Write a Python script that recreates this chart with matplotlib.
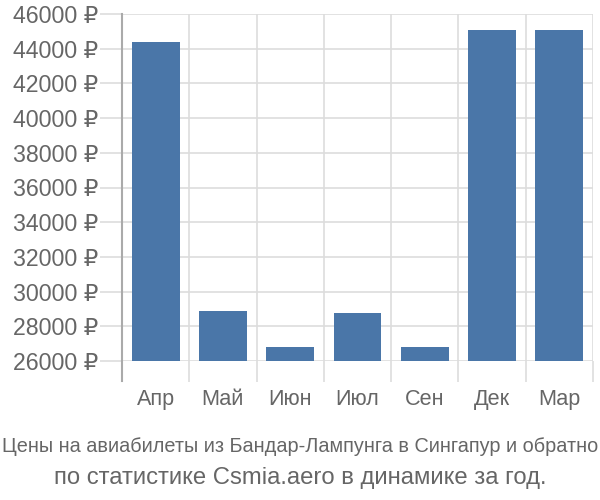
import matplotlib
matplotlib.use("Agg")
import matplotlib.pyplot as plt
import numpy as np
from matplotlib.lines import Line2D
from matplotlib import font_manager

months = ["Апр", "Май", "Июн", "Июл", "Сен", "Дек", "Мар"]
prices = [44400, 28880, 26830, 28790, 26830, 45060, 45060]
yticks = list(range(26000, 46001, 2000))
title1 = "Цены на авиабилеты из Бандар-Лампунга в Сингапур и обратно"
title2 = "по статистике Csmia.aero в динамике за год."

plt.rcParams['font.family'] = ['Liberation Sans', 'DejaVu Sans']
txt = '#666666'
grid = '#dddddd'

names = {f.name for f in font_manager.fontManager.ttflist}
narrow = 'Liberation Sans Narrow' in names

fig = plt.figure(figsize=(6, 5), dpi=100)
ax = fig.add_axes([122/600, 1-361/500, (593-122)/600, (361-14)/500])
x = np.arange(len(months))
base = 26000
ax.bar(x, [p - base for p in prices], bottom=base, width=0.71, color='#4a76a8', zorder=3)
ax.set_xlim(-0.5, len(months) - 0.5)
ax.set_ylim(26000, 46000)
ax.set_yticks(yticks)
ax.set_yticklabels([f"{v} ₽" for v in yticks], color=txt, fontsize=16.7)
ax.set_xticks(x)
ax.set_xticklabels(months, color=txt, fontsize=15.6)
ax.set_xticks(np.arange(-0.5, len(months)), minor=True)
ax.tick_params(axis='x', which='major', length=0, pad=20)
ax.tick_params(axis='x', which='minor', length=15, color=grid, width=1.2)
ax.tick_params(axis='y', which='major', length=16, color=grid, width=1.2, pad=1)
ax.grid(True, axis='y', color=grid, lw=1.2, zorder=0)
ax.grid(True, axis='x', which='minor', color=grid, lw=1.2, zorder=0)
for s in ['top', 'right', 'bottom', 'left']:
    ax.spines[s].set_visible(False)
ax.add_line(Line2D([0, 0], [-20/347, 1], transform=ax.transAxes, color='#aaaaaa', lw=1.5, clip_on=False, zorder=4))

if narrow:
    fig.text(0.5, 1-452/500, title1, ha='center', va='baseline', color=txt, fontsize=17.2,
             family=['Liberation Sans Narrow', 'DejaVu Sans'])
else:
    fig.text(0.5, 1-452/500, title1, ha='center', va='baseline', color=txt, fontsize=14.3)
fig.text(0.5, 1-484/500, title2, ha='center', va='baseline', color=txt, fontsize=17.2)
fig.savefig("out.png", dpi=100)
